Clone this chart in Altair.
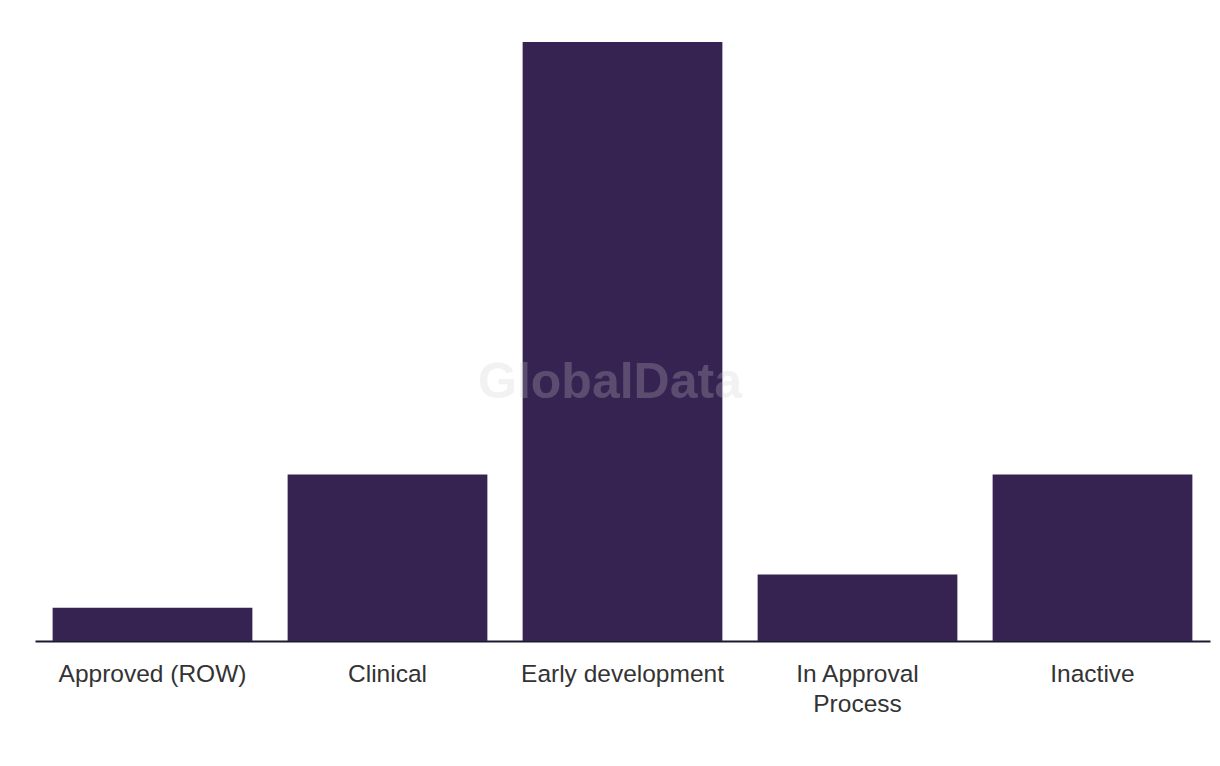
import altair as alt
import pandas as pd

categories = ["Approved (ROW)", "Clinical", "Early development", "In Approval Process", "Inactive"]
values = [1, 5, 18, 2, 5]

df = pd.DataFrame({"stage": categories, "count": values})

label_expr = "datum.value == 'In Approval Process' ? ['In Approval', 'Process'] : datum.value"

bars = alt.Chart(df).mark_bar(color="#362352").encode(
    x=alt.X("stage:N", sort=categories,
            scale=alt.Scale(paddingInner=0.15, paddingOuter=0.075),
            axis=alt.Axis(title=None, labelAngle=0, labelExpr=label_expr,
                          labelFont="Liberation Sans", labelFontSize=24.5, labelColor="#333333",
                          labelPadding=33, labelLineHeight=30, ticks=False, labelLimit=0,
                          domainColor="#1a1a2e", domainWidth=2, labelBaseline="middle")),
    y=alt.Y("count:Q", scale=alt.Scale(domain=[0, 18], nice=False), axis=None),
)

wm = alt.Chart(pd.DataFrame({"t": ["GlobalData"]})).mark_text(
    font="Liberation Sans", fontWeight="bold", fontSize=50, color="#cccccc", opacity=0.25,
    align="center", baseline="middle"
).encode(text="t:N", x=alt.value(575), y=alt.value(341))

chart = alt.layer(bars, wm).properties(
    width=1175, height=599,
    background="white",
    autosize=alt.AutoSizeParams(type="none"),
    padding={"left": 27, "top": 34, "right": 2, "bottom": 100},
).configure_view(stroke=None, strokeWidth=0)

chart.save("out.html", embed_options={"renderer": "svg", "actions": False})
